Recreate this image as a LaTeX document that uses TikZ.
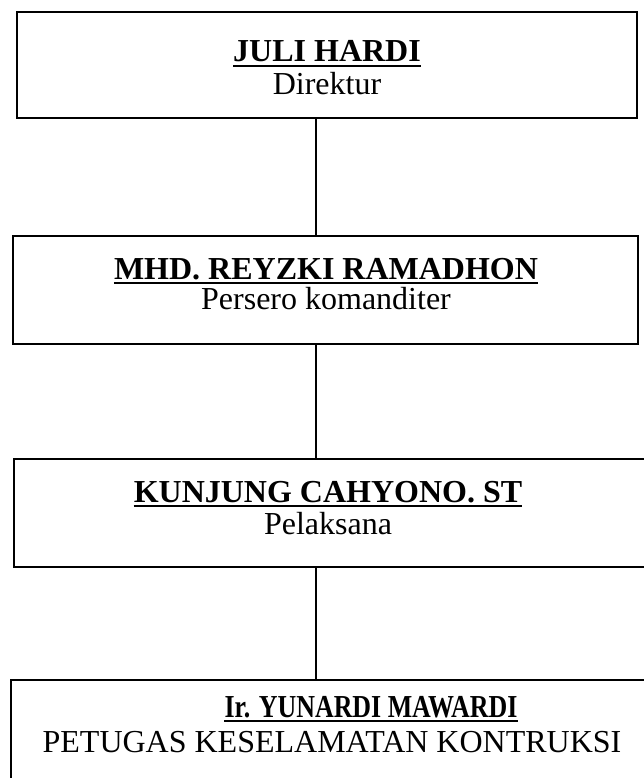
\documentclass[tikz,border=0pt]{standalone}
\usepackage{graphicx}
\usepackage{fontspec}
\setmainfont{Liberation Serif}
\begin{document}
\begin{tikzpicture}[x=1pt,y=-1pt,
  orgbox/.style={draw,line width=1.7pt,inner sep=0pt},
  titletext/.style={inner sep=0pt,anchor=base,font=\fontsize{32}{38}\selectfont\bfseries},
  roletext/.style={inner sep=0pt,anchor=base,font=\fontsize{32}{38}\selectfont},
  uline/.style={line width=2.6pt},
  conn/.style={line width=1.3pt}]
\clip (0,0) rectangle (644,778);
\fill[white] (0,0) rectangle (644,778);
% boxes
\node[orgbox,minimum width=620pt,minimum height=106pt] (b1) at (327,65) {};
\node[orgbox,minimum width=625pt,minimum height=108pt] (b2) at (325.5,290) {};
\node[orgbox,minimum width=646pt,minimum height=108pt] (b3) at (337,513) {};
\node[orgbox,minimum width=649pt,minimum height=140pt] (b4) at (335.5,750) {};
% texts
\node[titletext] (t1) at (327,62) {JULI HARDI};
\node[roletext] (r1) at (327,95) {Direktur};
\node[titletext] (t2) at (326,279) {MHD. REYZKI RAMADHON};
\node[roletext] (r2) at (326,309) {Persero komanditer};
\node[titletext] (t3) at (328,502) {KUNJUNG CAHYONO. ST};
\node[roletext] (r3) at (328,534) {Pelaksana};
\node[titletext] (t4) at (371,717) {\scalebox{0.81}[1]{Ir. YUNARDI MAWARDI}};
\node[roletext] (r4) at (332,752) {PETUGAS KESELAMATAN KONTRUKSI};
% underlines
\foreach \t in {t1,t2,t3,t4}{
  \draw[uline] ([yshift=-4pt]\t.base west) -- ([yshift=-4pt]\t.base east);
}
% connectors
\coordinate (cx) at (316,0);
\draw[conn] (cx |- b1.south) -- (cx |- b2.north);
\draw[conn] (cx |- b2.south) -- (cx |- b3.north);
\draw[conn] (cx |- b3.south) -- (cx |- b4.north);
\end{tikzpicture}
\end{document}
